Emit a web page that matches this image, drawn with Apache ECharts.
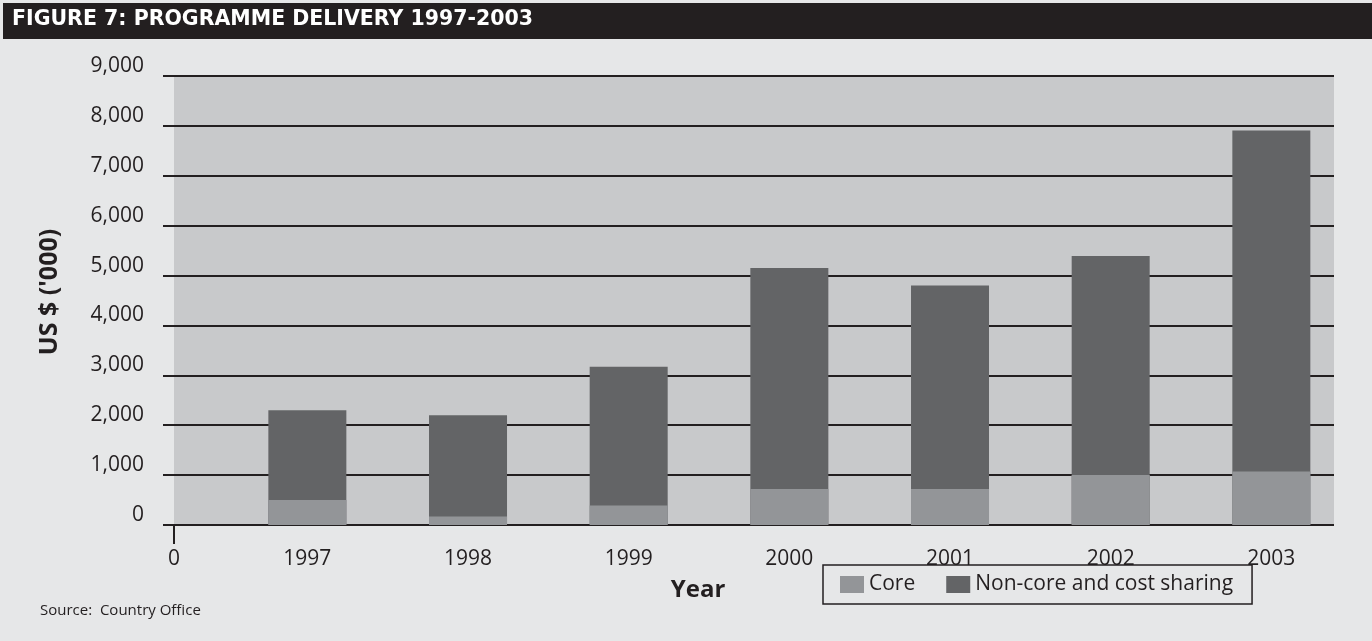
<!DOCTYPE html>
<html>
<head>
<meta charset="utf-8">
<script src="https://cdn.jsdelivr.net/npm/echarts@6/dist/echarts.min.js"></script>
<style>
  html, body { margin: 0; padding: 0; background: #ffffff; }
  #chart { width: 1372px; height: 641px; }
</style>
</head>
<body>
<div id="chart"></div>
<script>
// Programme delivery by year, US$ thousands
const years = [1997, 1998, 1999, 2000, 2001, 2002, 2003];
const coreValues = [500, 170, 390, 720, 720, 1000, 1070];
const nonCoreValues = [1800, 2030, 2780, 4430, 4080, 4390, 6840];
const yTicks = [0, 1000, 2000, 3000, 4000, 5000, 6000, 7000, 8000, 9000];
const seriesNames = ['Core', 'Non-core and cost sharing'];

const INK = '#231f20';
const PAGE = '#e6e7e8';
const FONT = '"Open Sans", "Noto Sans", sans-serif';
const X_MIN = 1996.17;
const X_MAX = 2003.39;

// The year axis is numeric, so the two segments are layered by hand:
// the non-core segment runs from zero to the bar total and the core
// segment is painted over its lower part.
const barTotals = years.map((y, i) => coreValues[i] + nonCoreValues[i]);

const chart = echarts.init(document.getElementById('chart'));

chart.setOption({
  backgroundColor: PAGE,
  animation: false,
  graphic: [
    {
      type: 'rect',
      left: 3, top: 3,
      shape: { width: 1369, height: 36 },
      style: { fill: INK }
    },
    {
      type: 'text',
      left: 12, top: 9,
      style: {
        text: 'FIGURE 7: PROGRAMME DELIVERY 1997-2003',
        fill: '#ffffff',
        font: 'bold 20.5px "DejaVu Sans", sans-serif'
      }
    },
    {
      type: 'text',
      left: 40, top: 603,
      style: {
        text: 'Source:  Country Office',
        fill: INK,
        font: '15px ' + FONT
      }
    },
    {
      type: 'text',
      x: 698, y: 590,
      style: {
        text: 'Year',
        fill: INK,
        font: 'bold 24px ' + FONT,
        align: 'center',
        verticalAlign: 'middle'
      }
    },
    {
      type: 'text',
      x: 50, y: 292,
      rotation: Math.PI / 2,
      style: {
        text: "US $ ('000)",
        fill: INK,
        font: 'bold 25px ' + FONT,
        align: 'center',
        verticalAlign: 'middle'
      }
    }
  ],
  grid: {
    left: 174, right: 38, top: 76, bottom: 116,
    show: true,
    backgroundColor: '#c8c9cb',
    borderWidth: 0
  },
  legend: {
    data: seriesNames,
    left: 823, top: 565,
    padding: [9, 19, 9, 17],
    itemGap: 31,
    itemWidth: 24,
    itemHeight: 17,
    borderColor: INK,
    borderWidth: 1.5,
    borderRadius: 0,
    icon: 'rect',
    textStyle: { color: INK, fontSize: 21, fontFamily: FONT }
  },
  xAxis: {
    type: 'value',
    min: X_MIN,
    max: X_MAX,
    splitLine: { show: false },
    axisLine: { show: false },
    axisTick: {
      show: true,
      customValues: [X_MIN],
      length: 19,
      lineStyle: { color: INK, width: 2 }
    },
    axisLabel: {
      customValues: [X_MIN].concat(years),
      formatter: v => (v === X_MIN ? '0' : String(v)),
      margin: 24,
      color: INK,
      fontSize: 21,
      fontFamily: FONT
    }
  },
  yAxis: {
    type: 'value',
    min: yTicks[0],
    max: yTicks[yTicks.length - 1],
    interval: 1000,
    axisLine: { show: false },
    axisTick: { show: true, length: 11, lineStyle: { color: INK, width: 2 } },
    splitLine: { show: true, lineStyle: { color: INK, width: 2 } },
    axisLabel: {
      margin: 30,
      color: INK,
      fontSize: 21,
      fontFamily: FONT,
      verticalAlign: 'bottom',
      lineHeight: 20,
      formatter: v => v.toLocaleString('en-US')
    }
  },
  series: [
    {
      name: seriesNames[1],
      type: 'bar',
      barWidth: 78,
      barGap: '-100%',
      itemStyle: { color: '#636466' },
      data: years.map((y, i) => [y, barTotals[i]])
    },
    {
      name: seriesNames[0],
      type: 'bar',
      barWidth: 78,
      barGap: '-100%',
      itemStyle: { color: '#939598' },
      data: years.map((y, i) => [y, coreValues[i]])
    }
  ]
});
</script>
</body>
</html>
